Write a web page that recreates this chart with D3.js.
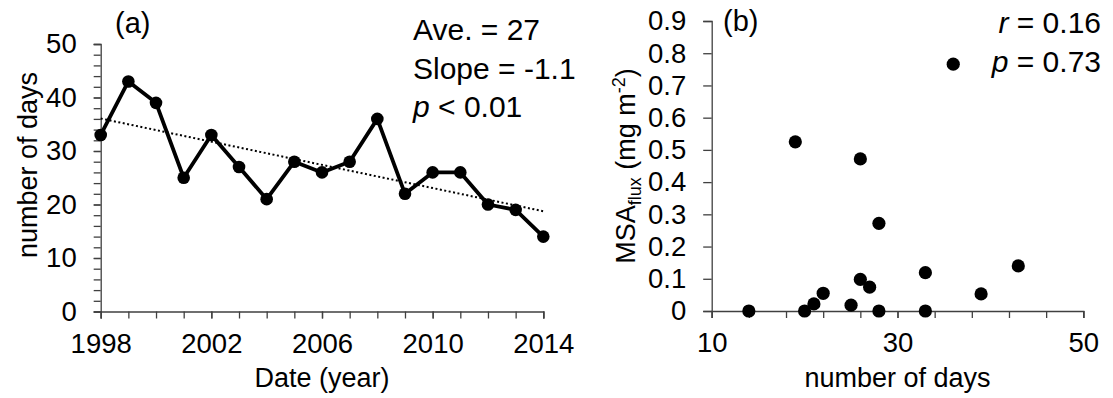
<!DOCTYPE html>
<html>
<head>
<meta charset="utf-8">
<script src="https://cdn.jsdelivr.net/npm/d3@7"></script>
<style>
  html, body { margin: 0; padding: 0; background: #fff; }
  svg { display: block; font-family: "Liberation Sans", Arial, sans-serif; }
</style>
</head>
<body>
<svg id="chart" width="1113" height="398"></svg>
<script>
// Panel (a): annual number of days
const years = [1998, 1999, 2000, 2001, 2002, 2003, 2004, 2005, 2006, 2007, 2008, 2009, 2010, 2011, 2012, 2013, 2014];
const dayCounts = [33, 43, 39, 25, 33, 27, 21, 28, 26, 28, 36, 22, 26, 26, 20, 19, 14];
const yearTickLabels = [1998, 2002, 2006, 2010, 2014];
const dayTickLabels = [0, 10, 20, 30, 40, 50];
const statsA = ["Ave. = 27", "Slope = -1.1", "p < 0.01"];

// Panel (b): MSA flux against number of days
const scatterDays = [14, 19, 20, 21, 22, 25, 26, 26, 27, 28, 28, 33, 33, 36, 39, 43];
const msaFlux = [0, 0.525, 0, 0.022, 0.055, 0.018, 0.472, 0.098, 0.074, 0.272, 0, 0.119, 0, 0.766, 0.053, 0.14];
const daysTickLabels = [10, 30, 50];
const fluxTickLabels = [0, 0.1, 0.2, 0.3, 0.4, 0.5, 0.6, 0.7, 0.8, 0.9];

const svg = d3.select("#chart");
const axisColor = "#404040";
const tickFont = 27.5;
const titleFont = 27;
const noteFont = 30;

function styleAxis(g) {
  g.selectAll("path, line").attr("stroke", axisColor).attr("stroke-width", 1.3);
  g.selectAll("text").attr("fill", "#000").style("font-size", tickFont + "px");
}

// ---------- Panel (a) ----------
const xA = d3.scaleLinear().domain([1998, 2014]).range([100.7, 543.3]);
const yA = d3.scaleLinear().domain([0, 50]).range([311.5, 44]);

// minor ticks: every year on x, every 2 days on y
svg.append("g").attr("transform", `translate(0,${yA(0)})`)
  .call(d3.axisBottom(xA).tickValues(years).tickSize(7).tickFormat(""))
  .call(styleAxis);
svg.append("g").attr("transform", `translate(${xA(1998)},0)`)
  .call(d3.axisLeft(yA).tickValues(d3.range(0, 51, 2)).tickSize(7).tickFormat(""))
  .call(styleAxis);
// labelled ticks
svg.append("g").attr("transform", `translate(0,${yA(0)})`)
  .call(d3.axisBottom(xA).tickValues(yearTickLabels).tickSize(7).tickPadding(14.5).tickFormat(d3.format("d")))
  .call(styleAxis)
  .call(g => g.select(".domain").remove());
svg.append("g").attr("transform", `translate(${xA(1998)},0)`)
  .call(d3.axisLeft(yA).tickValues(dayTickLabels).tickSize(7).tickPadding(17))
  .call(styleAxis)
  .call(g => g.select(".domain").remove());

// least-squares trend
const mx = d3.mean(years), my = d3.mean(dayCounts);
const slope = d3.sum(years, (x, i) => (x - mx) * (dayCounts[i] - my)) / d3.sum(years, x => (x - mx) ** 2);
const trend = x => my + slope * (x - mx);
svg.append("line")
  .attr("x1", xA(1998)).attr("y1", yA(trend(1998)))
  .attr("x2", xA(2014)).attr("y2", yA(trend(2014)))
  .attr("stroke", "#000").attr("stroke-width", 2).attr("stroke-dasharray", "2,2.5");

svg.append("path")
  .datum(years.map((y, i) => [y, dayCounts[i]]))
  .attr("fill", "none").attr("stroke", "#000").attr("stroke-width", 3.8).attr("stroke-linejoin", "round")
  .attr("d", d3.line().x(d => xA(d[0])).y(d => yA(d[1])));
svg.append("g").selectAll("circle")
  .data(years.map((y, i) => [y, dayCounts[i]]))
  .join("circle")
  .attr("cx", d => xA(d[0])).attr("cy", d => yA(d[1])).attr("r", 6.3).attr("fill", "#000");

svg.append("text").attr("x", 115).attr("y", 33).style("font-size", "29px").text("(a)");
svg.append("g").selectAll("text").data(statsA).join("text")
  .attr("x", 413).attr("y", (d, i) => 40 + i * 38.5)
  .style("font-size", noteFont + "px")
  .each(function (d) {
    const t = d3.select(this);
    if (d.startsWith("p ")) {
      t.append("tspan").style("font-style", "italic").text("p");
      t.append("tspan").text(d.slice(1));
    } else t.text(d);
  });

svg.append("text").attr("x", xA(2006)).attr("y", 387).attr("text-anchor", "middle")
  .style("font-size", titleFont + "px").text("Date (year)");
svg.append("text").attr("transform", `translate(37,165) rotate(-90)`).attr("text-anchor", "middle")
  .style("font-size", titleFont + "px").text("number of days");

// ---------- Panel (b) ----------
const xB = d3.scaleLinear().domain([10, 50]).range([711.7, 1083.3]);
const yB = d3.scaleLinear().domain([0, 0.9]).range([311, 21]);

svg.append("g").attr("transform", `translate(0,${yB(0)})`)
  .call(d3.axisBottom(xB).tickValues(d3.range(10, 51, 4)).tickSize(7).tickFormat(""))
  .call(styleAxis);
svg.append("g").attr("transform", `translate(0,${yB(0)})`)
  .call(d3.axisBottom(xB).tickValues(daysTickLabels).tickSize(7).tickPadding(14.5))
  .call(styleAxis)
  .call(g => g.select(".domain").remove());
svg.append("g").attr("transform", `translate(${xB(10)},0)`)
  .call(d3.axisLeft(yB).tickValues(fluxTickLabels).tickSize(8.5).tickPadding(17).tickFormat(d => d === 0 ? "0" : d3.format(".1f")(d)))
  .call(styleAxis);

svg.append("g").selectAll("circle")
  .data(scatterDays.map((d, i) => [d, msaFlux[i]]))
  .join("circle")
  .attr("cx", d => xB(d[0])).attr("cy", d => yB(d[1])).attr("r", 6.6).attr("fill", "#000");

svg.append("text").attr("x", 723).attr("y", 31).style("font-size", "29px").text("(b)");
const statB = svg.append("g").style("font-size", noteFont + "px").attr("text-anchor", "end");
statB.append("text").attr("x", 1101).attr("y", 33)
  .call(t => { t.append("tspan").style("font-style", "italic").text("r"); t.append("tspan").text(" = 0.16"); });
statB.append("text").attr("x", 1101).attr("y", 72)
  .call(t => { t.append("tspan").style("font-style", "italic").text("p"); t.append("tspan").text(" = 0.73"); });

svg.append("text").attr("x", xB(30)).attr("y", 387).attr("text-anchor", "middle")
  .style("font-size", titleFont + "px").text("number of days");
const yLab = svg.append("text").attr("transform", `translate(635,${yB(0.45)}) rotate(-90)`)
  .attr("text-anchor", "middle").style("font-size", titleFont + "px");
yLab.append("tspan").text("MSA");
yLab.append("tspan").attr("dy", 6).style("font-size", "18px").text("flux");
yLab.append("tspan").attr("dy", -6).text(" (mg m");
yLab.append("tspan").attr("dy", -10).style("font-size", "18px").text("-2");
yLab.append("tspan").attr("dy", 10).text(")");
</script>
</body>
</html>
